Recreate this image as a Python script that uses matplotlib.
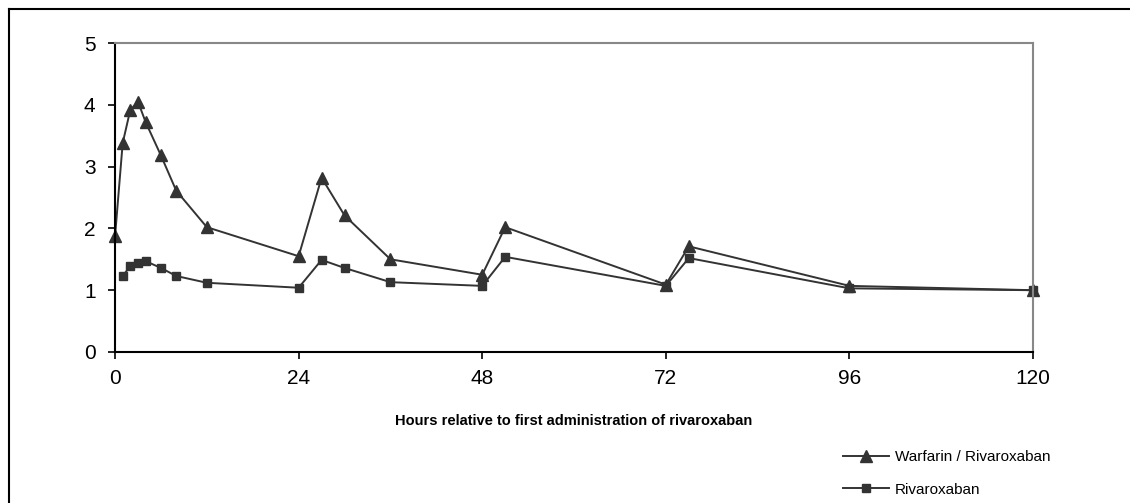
import matplotlib.pyplot as plt
from matplotlib.lines import Line2D

plt.rcParams['font.family'] = ['Liberation Sans', 'DejaVu Sans']

# warfarin / rivaroxaban
hours_wr = [0, 1, 2, 3, 4, 6, 8, 12, 24, 27, 30, 36, 48, 51, 72, 75, 96, 120]
vals_wr = [1.87, 3.38, 3.92, 4.05, 3.72, 3.18, 2.61, 2.02, 1.55, 2.82, 2.21, 1.5, 1.25, 2.02, 1.09, 1.71, 1.07, 1.0]

# rivaroxaban alone
hours_r = [1, 2, 3, 4, 6, 8, 12, 24, 27, 30, 36, 48, 51, 72, 75, 96, 120]
vals_r = [1.23, 1.39, 1.44, 1.47, 1.36, 1.23, 1.12, 1.04, 1.49, 1.36, 1.13, 1.07, 1.54, 1.07, 1.52, 1.03, 1.0]

xticks = [0, 24, 48, 72, 96, 120]
yticks = [0, 1, 2, 3, 4, 5]

fig = plt.figure(figsize=(11.3, 5.03), dpi=100)
ax = fig.add_axes([0.1018, 0.3002, 0.8124, 0.6143])

c = '#333333'
ax.plot(hours_wr, vals_wr, color=c, lw=1.4, marker='^', ms=8.5, label='Warfarin / Rivaroxaban', clip_on=False)
ax.plot(hours_r, vals_r, color=c, lw=1.4, marker='s', ms=5.5, label='Rivaroxaban', clip_on=False)

ax.set_xlim(0, 120)
ax.set_ylim(0, 5)
ax.set_xticks(xticks)
ax.set_yticks(yticks)
ax.tick_params(labelsize=15, length=5, width=1.2, color='black')
ax.tick_params(axis='y', pad=9)
ax.tick_params(axis='x', pad=7)

for s in ['left', 'bottom']:
    ax.spines[s].set_linewidth(1.5)
    ax.spines[s].set_color('black')
for s in ['top', 'right']:
    ax.spines[s].set_linewidth(1.5)
    ax.spines[s].set_color('#888888')

ax.set_xlabel('Hours relative to first administration of rivaroxaban', fontsize=10.5, fontweight='bold', labelpad=19)

ax.legend(loc='upper left', bbox_to_anchor=(0.739, 0.12), bbox_transform=fig.transFigure,
          frameon=False, fontsize=11, handlelength=3.0, labelspacing=1.2, handletextpad=0.4,
          borderpad=0)

# outer frame (left and top edges only visible)
fig.add_artist(Line2D([9 / 1130, 9 / 1130], [0, 1 - 9 / 503], color='black', lw=1.5, transform=fig.transFigure))
fig.add_artist(Line2D([9 / 1130, 1], [1 - 9 / 503, 1 - 9 / 503], color='black', lw=1.5, transform=fig.transFigure))

fig.savefig('out.png', dpi=100)
